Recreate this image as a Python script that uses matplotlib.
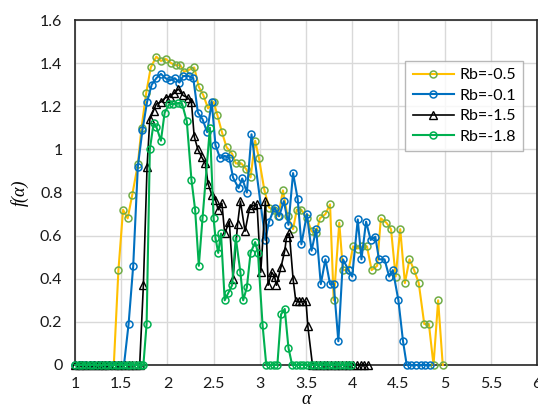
import matplotlib.pyplot as plt

# alpha / f(alpha) values
a_05 = [1.00, 1.05, 1.10, 1.16, 1.21, 1.26, 1.31, 1.37, 1.42, 1.47, 1.52, 1.57, 1.62, 1.68, 1.72,
        1.77, 1.82, 1.88, 1.93, 1.98, 2.04, 2.09, 2.14, 2.18, 2.24, 2.29, 2.34, 2.39, 2.44, 2.50,
        2.54, 2.59, 2.64, 2.70, 2.74, 2.80, 2.85, 2.90, 2.95, 2.99, 3.05, 3.10, 3.15, 3.20, 3.25,
        3.30, 3.36, 3.40, 3.45, 3.51, 3.56, 3.61, 3.65, 3.71, 3.76, 3.80, 3.86, 3.90, 3.96, 4.01,
        4.06, 4.11, 4.16, 4.21, 4.27, 4.31, 4.37, 4.42, 4.47, 4.52, 4.57, 4.62, 4.67, 4.72, 4.78,
        4.83, 4.88, 4.93, 4.98]
f_05 = [0, 0, 0, 0, 0, 0, 0, 0, 0, 0.44, 0.72, 0.68, 0.79, 0.93, 1.10,
        1.26, 1.38, 1.43, 1.41, 1.42, 1.40, 1.39, 1.39, 1.36, 1.37, 1.38, 1.29, 1.25, 1.19, 1.22,
        1.16, 1.08, 1.01, 0.98, 0.935, 0.935, 0.91, 0.87, 1.04, 0.96, 0.81, 0.73, 0.72, 0.69, 0.81,
        0.69, 0.63, 0.72, 0.72, 0.68, 0.62, 0.61, 0.68, 0.70, 0.745, 0.30, 0.66, 0.44, 0.44, 0.55,
        0.54, 0.55, 0.55, 0.44, 0.46, 0.68, 0.66, 0.63, 0.41, 0.63, 0.38, 0.49, 0.44, 0.38, 0.19,
        0.19, 0, 0.30, 0]

a_01 = [1.00, 1.05, 1.11, 1.16, 1.21, 1.27, 1.32, 1.37, 1.42, 1.48, 1.53, 1.58, 1.63, 1.68, 1.73,
        1.78, 1.83, 1.88, 1.93, 1.98, 2.03, 2.08, 2.13, 2.17, 2.23, 2.28, 2.33, 2.38, 2.43, 2.48,
        2.52, 2.57, 2.62, 2.67, 2.71, 2.77, 2.81, 2.86, 2.91, 3.06, 3.10, 3.16, 3.21, 3.26, 3.31,
        3.36, 3.41, 3.45, 3.51, 3.56, 3.61, 3.66, 3.71, 3.76, 3.80, 3.85, 3.90, 3.96, 4.00, 4.06,
        4.10, 4.15, 4.20, 4.25, 4.29, 4.35, 4.40, 4.44, 4.50, 4.55, 4.59, 4.64, 4.69, 4.74, 4.79,
        4.84]
f_01 = [0, 0, 0, 0, 0, 0, 0, 0, 0, 0, 0, 0.19, 0.46, 0.92, 1.09,
        1.22, 1.30, 1.33, 1.35, 1.33, 1.32, 1.33, 1.31, 1.34, 1.34, 1.33, 1.17, 1.14, 1.08, 1.22,
        1.02, 0.96, 0.97, 0.96, 0.87, 0.82, 0.865, 0.80, 1.07, 0.58, 0.665, 0.73, 0.69, 0.76, 0.65,
        0.89, 0.77, 0.56, 0.70, 0.53, 0.63, 0.375, 0.49, 0.375, 0.375, 0.11, 0.49, 0.44, 0.41, 0.675,
        0.49, 0.665, 0.58, 0.595, 0.49, 0.49, 0.41, 0.44, 0.30, 0.11, 0, 0, 0, 0, 0,
        0]

a_15 = [1.00, 1.04, 1.08, 1.12, 1.16, 1.21, 1.25, 1.29, 1.33, 1.37, 1.42, 1.46, 1.50, 1.54, 1.58,
        1.62, 1.66, 1.70, 1.74, 1.78, 1.81, 1.85, 1.88, 1.93, 1.98, 2.03, 2.07, 2.12, 2.17, 2.22,
        2.26, 2.29, 2.33, 2.37, 2.41, 2.44, 2.48, 2.52, 2.55, 2.59, 2.62, 2.67, 2.71, 2.76, 2.79,
        2.84, 2.89, 2.93, 2.97, 3.01, 3.06, 3.09, 3.13, 3.16, 3.18, 3.23, 3.27, 3.29, 3.32, 3.36,
        3.39, 3.42, 3.46, 3.50, 3.52, 3.57, 3.61, 3.65, 3.69, 3.73, 3.77, 3.81, 3.85, 3.89, 3.93,
        3.97, 4.01, 4.05, 4.09, 4.13, 4.17]
f_15 = [0, 0, 0, 0, 0, 0, 0, 0, 0, 0, 0, 0, 0, 0, 0,
        0, 0, 0, 0.37, 0.92, 1.14, 1.18, 1.21, 1.22, 1.24, 1.245, 1.26, 1.28, 1.25, 1.24,
        1.22, 1.06, 1.00, 0.965, 0.935, 0.84, 0.79, 0.765, 0.72, 0.75, 0.61, 0.665, 0.40, 0.655, 0.76,
        0.62, 0.73, 0.74, 0.745, 0.43, 0.76, 0.37, 0.43, 0.41, 0.37, 0.455, 0.53, 0.595, 0.61, 0.40,
        0.295, 0.295, 0.295, 0.295, 0.18, 0, 0, 0, 0, 0, 0, 0, 0, 0, 0,
        0, 0, 0, 0, 0, 0]

a_18 = [1.00, 1.04, 1.08, 1.12, 1.16, 1.20, 1.24, 1.28, 1.32, 1.36, 1.40, 1.44, 1.48, 1.52, 1.56,
        1.60, 1.64, 1.68, 1.71, 1.74, 1.775, 1.81, 1.85, 1.88, 1.93, 1.97, 2.02, 2.06, 2.12, 2.16,
        2.21, 2.26, 2.30, 2.34, 2.38, 2.46, 2.50, 2.52, 2.55, 2.58, 2.62, 2.66, 2.70, 2.74, 2.79,
        2.82, 2.86, 2.90, 2.95, 2.98, 3.03, 3.07, 3.11, 3.15, 3.19, 3.23, 3.27, 3.31, 3.35, 3.39,
        3.43, 3.47, 3.51, 3.55, 3.59, 3.63, 3.67, 3.71, 3.75, 3.79, 3.83, 3.87, 3.91, 3.95, 3.99]
f_18 = [0, 0, 0, 0, 0, 0, 0, 0, 0, 0, 0, 0, 0, 0, 0,
        0, 0, 0, 0, 0, 0.19, 1.00, 1.12, 1.105, 1.04, 1.17, 1.21, 1.21, 1.215, 1.21,
        1.13, 0.86, 0.72, 0.46, 0.68, 1.10, 0.68, 0.59, 0.52, 0.61, 0.30, 0.335, 0.37, 0.59, 0.43,
        0.30, 0.36, 0.52, 0.57, 0.52, 0.185, 0, 0, 0, 0, 0.235, 0.26, 0.08, 0, 0,
        0, 0, 0, 0, 0, 0, 0, 0, 0, 0, 0, 0, 0, 0, 0]

x_ticks = [1, 1.5, 2, 2.5, 3, 3.5, 4, 4.5, 5, 5.5, 6]
x_labels = ["1", "1.5", "2", "2.5", "3", "3.5", "4", "4.5", "5", "5.5", "6"]
y_ticks = [0, 0.2, 0.4, 0.6, 0.8, 1.0, 1.2, 1.4, 1.6]
y_labels = ["0", "0.2", "0.4", "0.6", "0.8", "1", "1.2", "1.4", "1.6"]

plt.rcParams['font.family'] = ['Lato', 'DejaVu Sans']

fig = plt.figure(figsize=(5.38, 4.05), dpi=100)
ax = fig.add_axes([75 / 538, 40 / 405, 462 / 538, 345 / 405])

ax.plot(a_05, f_05, color='#FFC000', lw=1.5, marker='o', ms=5, mfc='none',
        mec='#70AD47', mew=1.1, label='Rb=-0.5', clip_on=False, zorder=3)
ax.plot(a_01, f_01, color='#0070C0', lw=1.5, marker='o', ms=5, mfc='none',
        mec='#0070C0', mew=1.1, label='Rb=-0.1', clip_on=False, zorder=4)
ax.plot(a_15, f_15, color='black', lw=1.2, marker='^', ms=6, mfc='none',
        mec='black', mew=1.0, label='Rb=-1.5', clip_on=False, zorder=5)
ax.plot(a_18, f_18, color='#00B050', lw=1.5, marker='o', ms=5, mfc='none',
        mec='#00B050', mew=1.1, label='Rb=-1.8', clip_on=False, zorder=6)

ax.set_xlim(1, 6)
ax.set_ylim(0, 1.6)
ax.set_xticks(x_ticks)
ax.set_xticklabels(x_labels)
ax.set_yticks(y_ticks)
ax.set_yticklabels(y_labels)
ax.tick_params(length=0, labelsize=11.5, colors='#1a1a1a', pad=9)
ax.grid(True, color='#D9D9D9', lw=1)
ax.set_axisbelow(True)
for s in ax.spines.values():
    s.set_color('#262626')
    s.set_linewidth(1.2)

ax.set_ylabel('f(α)', family='Liberation Serif', style='italic', fontsize=13, labelpad=8)
ax.set_xlabel('α', family='Liberation Serif', style='italic', fontsize=13, labelpad=0)

leg = ax.legend(loc='upper right', bbox_to_anchor=(0.988, 0.905), fontsize=11.5,
                fancybox=False, edgecolor='#A6A6A6', handlelength=2.6,
                borderpad=0.45, labelspacing=0.4, handletextpad=0.35)
leg.get_frame().set_linewidth(1.0)

fig.savefig('out.png', dpi=100)
